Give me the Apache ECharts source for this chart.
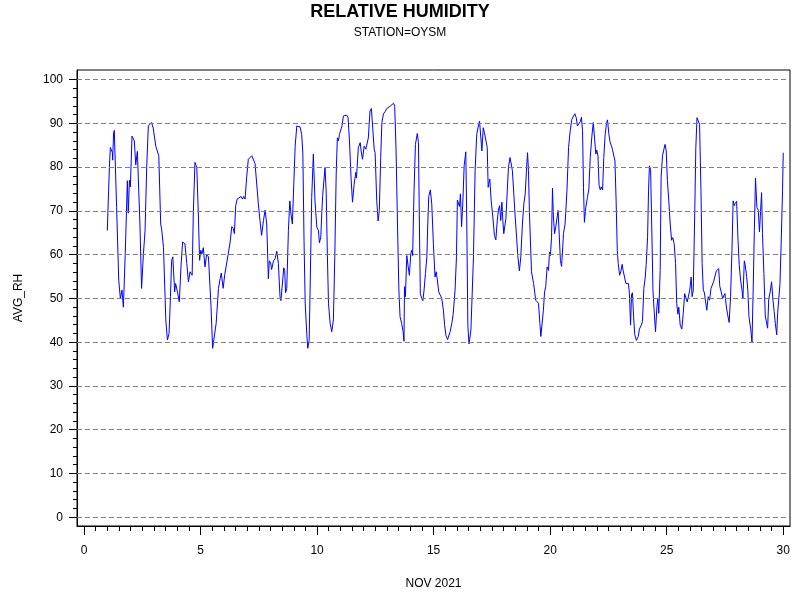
<!DOCTYPE html>
<html>
<head>
<meta charset="utf-8">
<script src="https://cdn.jsdelivr.net/npm/echarts@6/dist/echarts.min.js"></script>
<style>
  html, body { margin: 0; padding: 0; background: #fff; }
  #chart { width: 800px; height: 600px; }
</style>
</head>
<body>
<div id="chart"></div>
<script>
// day of month (fractional) and average relative humidity
const days = [
  1.00, 1.09, 1.13, 1.22, 1.23, 1.27, 1.30, 1.40, 1.49, 1.56, 1.63, 1.69, 1.77, 1.86, 1.90, 1.95, 1.99,
  2.06, 2.09, 2.16, 2.22, 2.29, 2.33, 2.40, 2.47, 2.55, 2.62, 2.69, 2.76, 2.83, 2.90, 2.97,
  3.08, 3.15, 3.21, 3.29, 3.33, 3.41, 3.51, 3.58, 3.65, 3.71, 3.76, 3.81, 3.89, 3.93,
  4.01, 4.09, 4.16, 4.23, 4.33, 4.41, 4.48, 4.55, 4.64, 4.69, 4.76, 4.84, 4.91, 4.96,
  5.01, 5.06, 5.12, 5.19, 5.26, 5.34, 5.45, 5.52, 5.58, 5.67, 5.77, 5.84, 5.89, 5.97,
  6.04, 6.12, 6.19, 6.27, 6.34, 6.41, 6.45, 6.51, 6.57, 6.65, 6.74, 6.80, 6.85, 6.91, 6.98,
  7.05, 7.12, 7.20, 7.27, 7.34, 7.40, 7.48, 7.55, 7.62, 7.70, 7.77, 7.84, 7.91, 7.95,
  8.01, 8.05, 8.13, 8.20, 8.27, 8.34, 8.41, 8.45, 8.53, 8.57, 8.61, 8.65, 8.70, 8.77, 8.83, 8.88, 8.94,
  9.00, 9.06, 9.13, 9.20, 9.27, 9.34, 9.39, 9.44, 9.49, 9.56, 9.60, 9.66, 9.70, 9.77, 9.84, 9.91, 9.99,
  10.06, 10.10, 10.16, 10.20, 10.24, 10.29, 10.34, 10.39, 10.44, 10.49, 10.56, 10.63, 10.70, 10.76, 10.82, 10.87, 10.92, 10.96,
  11.02, 11.07, 11.13, 11.20, 11.27, 11.33, 11.39, 11.46, 11.52, 11.59, 11.66, 11.69, 11.77, 11.85, 11.89, 11.95,
  12.02, 12.09, 12.13, 12.20, 12.27, 12.33, 12.40, 12.45, 12.49, 12.56, 12.62, 12.67, 12.73, 12.78, 12.85, 12.92, 12.99,
  13.06, 13.13, 13.20, 13.28, 13.33, 13.39, 13.45, 13.51, 13.56, 13.63, 13.69, 13.73, 13.75, 13.79, 13.85, 13.91, 13.96,
  14.02, 14.06, 14.10, 14.16, 14.22, 14.26, 14.30, 14.35, 14.39, 14.43, 14.49, 14.54, 14.59, 14.65, 14.71, 14.75, 14.79, 14.82, 14.86, 14.92, 14.99,
  15.06, 15.11, 15.16, 15.22, 15.28, 15.35, 15.42, 15.47, 15.53, 15.60, 15.64, 15.71, 15.78, 15.84, 15.92, 15.98,
  16.02, 16.07, 16.11, 16.15, 16.20, 16.25, 16.31, 16.38, 16.42, 16.47, 16.52, 16.60, 16.65, 16.71, 16.78, 16.85, 16.92, 16.97,
  17.01, 17.07, 17.13, 17.18, 17.24, 17.30, 17.34, 17.37, 17.41, 17.47, 17.54, 17.61, 17.67, 17.73, 17.78, 17.83, 17.88, 17.93, 17.97,
  18.01, 18.06, 18.10, 18.16, 18.21, 18.28, 18.33, 18.38, 18.44, 18.50, 18.56, 18.61, 18.68, 18.74, 18.81, 18.87, 18.93, 18.99,
  19.03, 19.07, 19.11, 19.14, 19.20, 19.24, 19.29, 19.33, 19.38, 19.44, 19.50, 19.56, 19.60, 19.66, 19.71, 19.76, 19.81, 19.87, 19.93, 19.97,
  20.01, 20.06, 20.10, 20.14, 20.19, 20.24, 20.30, 20.34, 20.39, 20.44, 20.49, 20.54, 20.57, 20.64, 20.72, 20.79, 20.86, 20.93,
  21.00, 21.06, 21.12, 21.17, 21.24, 21.30, 21.34, 21.39, 21.43, 21.47, 21.53, 21.60, 21.66, 21.72, 21.79, 21.85, 21.90, 21.96,
  22.00, 22.05, 22.10, 22.15, 22.19, 22.25, 22.30, 22.36, 22.42, 22.46, 22.52, 22.57, 22.63, 22.67, 22.72, 22.78, 22.83, 22.88, 22.92, 22.98,
  23.03, 23.09, 23.13, 23.19, 23.25, 23.30, 23.36, 23.40, 23.45, 23.49, 23.53, 23.58, 23.63, 23.70, 23.78, 23.83, 23.91, 23.96,
  24.02, 24.08, 24.12, 24.18, 24.22, 24.26, 24.31, 24.35, 24.41, 24.46, 24.52, 24.58, 24.62, 24.66, 24.72, 24.76, 24.82, 24.88, 24.93, 24.98,
  25.03, 25.09, 25.15, 25.21, 25.26, 25.32, 25.38, 25.43, 25.48, 25.52, 25.58, 25.65, 25.71, 25.77, 25.82, 25.88, 25.94, 25.99,
  26.05, 26.09, 26.14, 26.20, 26.25, 26.30, 26.35, 26.41, 26.47, 26.52, 26.57, 26.62, 26.67, 26.72, 26.78, 26.84, 26.90, 26.95,
  27.01, 27.07, 27.13, 27.18, 27.23, 27.28, 27.34, 27.40, 27.45, 27.50, 27.55, 27.61, 27.68, 27.74, 27.80, 27.85, 27.90, 27.94,
  28.00, 28.06, 28.11, 28.17, 28.23, 28.27, 28.33, 28.37, 28.43, 28.48, 28.53, 28.57, 28.61, 28.66, 28.71, 28.76, 28.81, 28.87, 28.93, 28.98,
  29.03, 29.07, 29.11, 29.17, 29.23, 29.28, 29.33, 29.38, 29.44, 29.50, 29.56, 29.61, 29.66, 29.72, 29.76, 29.80, 29.86, 29.91, 29.97, 30.00
];
const avgRh = [
  65.5, 80.0, 84.5, 83.3, 81.6, 87.9, 88.4, 70.8, 54.2, 50.0, 51.9, 48.0, 60.2, 76.9, 69.5, 77.0, 75.5,
  87.1, 87.5, 86.0, 80.5, 83.6, 83.6, 67.0, 52.3, 60.2, 65.5, 79.9, 89.4, 89.8, 90.2, 88.9,
  84.8, 84.5, 82.6, 67.0, 65.9, 61.7, 45.1, 40.5, 42.0, 50.4, 58.7, 59.5, 51.5, 53.4,
  51.5, 49.2, 57.2, 62.9, 62.5, 58.0, 53.8, 56.1, 55.3, 69.3, 81.1, 79.9, 68.6, 58.7,
  61.0, 60.2, 61.6, 57.2, 60.0, 59.5, 48.1, 38.6, 38.4, 44.3, 52.3, 54.5, 55.8, 52.3,
  55.5, 55.3, 60.2, 62.9, 66.4, 65.9, 64.8, 71.2, 72.7, 72.3, 73.3, 72.7, 73.3, 72.7, 77.7,
  81.8, 82.2, 82.6, 82.2, 80.8, 80.7, 71.6, 67.8, 64.4, 67.8, 70.2, 67.0, 54.5, 58.6,
  58.1, 56.6, 58.6, 59.1, 60.8, 58.0, 50.4, 49.5, 49.6, 57.0, 56.4, 51.3, 52.3, 65.5, 72.3, 69.3, 67.0,
  76.1, 84.8, 89.4, 89.4, 89.2, 87.5, 83.0, 63.3, 48.9, 41.7, 38.6, 40.4, 51.9, 73.1, 83.0, 72.3, 66.3,
  65.5, 62.7, 64.0, 69.3, 73.5, 73.9, 79.9, 74.6, 60.2, 48.9, 44.3, 42.4, 45.1, 59.5, 78.4, 86.7, 86.0, 87.5,
  87.7, 89.4, 91.7, 92.0, 91.9, 91.3, 86.0, 77.3, 72.0, 76.1, 78.8, 77.5, 84.5, 85.6, 83.7, 81.8,
  84.8, 84.1, 83.9, 86.7, 92.8, 93.4, 93.2, 84.1, 83.3, 72.3, 67.7, 70.1, 82.2, 90.2, 92.2, 92.7, 93.4,
  93.7, 93.9, 94.2, 94.6, 93.9, 83.7, 67.0, 51.9, 45.8, 44.3, 42.4, 40.2, 52.7, 50.4, 59.8, 57.2, 55.3,
  60.2, 61.0, 59.8, 74.6, 85.2, 85.4, 87.7, 85.6, 67.0, 51.1, 50.0, 49.5, 51.9, 55.7, 59.5, 67.0, 73.3, 73.3, 74.8, 71.6, 62.5,
  54.9, 56.1, 54.2, 51.5, 51.5, 50.0, 47.3, 44.0, 41.5, 40.6, 40.5, 42.4, 44.3, 46.4, 51.9, 59.5,
  72.5, 71.6, 71.0, 73.9, 66.4, 71.6, 80.3, 83.5, 68.6, 43.6, 39.6, 42.8, 42.8, 59.5, 79.2, 87.5, 89.4, 90.5,
  90.9, 83.7, 89.0, 87.9, 87.9, 84.5, 75.4, 75.0, 77.3, 72.3, 68.6, 64.4, 63.4, 67.8, 70.2, 71.2, 67.8, 72.0, 67.8,
  64.8, 64.8, 68.2, 74.6, 79.9, 82.2, 81.8, 79.2, 73.9, 68.6, 64.0, 59.8, 56.3, 59.5, 67.0, 71.6, 73.9, 79.9,
  83.3, 79.2, 69.7, 70.1, 56.1, 55.8, 53.4, 53.8, 49.6, 49.2, 48.9, 44.3, 41.3, 41.3, 47.3, 51.5, 52.7, 57.2, 56.4, 60.6,
  59.8, 64.0, 75.2, 68.6, 64.8, 66.4, 68.6, 70.1, 69.7, 58.7, 57.3, 61.7, 64.8, 67.0, 74.6, 84.5, 88.3, 90.9,
  91.7, 92.2, 91.3, 89.4, 89.4, 90.5, 91.4, 88.3, 75.4, 67.4, 70.8, 73.1, 75.0, 82.2, 87.1, 90.2, 89.8, 83.0,
  83.9, 82.6, 75.8, 74.8, 75.5, 74.8, 82.2, 87.5, 90.2, 90.8, 87.5, 85.8, 84.8, 84.1, 84.3, 81.4, 72.3, 61.0, 58.0, 55.3,
  56.1, 57.8, 56.4, 56.4, 53.4, 53.3, 53.4, 51.1, 43.9, 50.8, 51.3, 45.8, 41.7, 40.4, 41.3, 43.0, 43.9, 44.7,
  52.3, 54.9, 57.8, 64.0, 74.6, 80.3, 79.5, 68.6, 51.9, 47.3, 42.4, 48.1, 50.0, 46.6, 56.4, 77.7, 82.6, 84.1, 85.2, 83.7,
  76.9, 72.3, 67.0, 63.3, 63.9, 62.5, 58.0, 48.9, 46.4, 48.0, 43.9, 43.0, 46.6, 51.1, 51.5, 49.2, 48.9, 51.9,
  54.9, 50.4, 51.9, 68.6, 84.5, 91.3, 91.7, 89.8, 74.6, 58.0, 51.9, 51.3, 49.2, 47.3, 50.4, 49.6, 52.3, 52.7,
  53.8, 54.2, 56.3, 56.1, 56.8, 52.7, 51.5, 50.0, 49.6, 51.1, 48.5, 46.4, 44.5, 50.4, 61.0, 72.3, 71.2, 71.7,
  72.2, 63.3, 57.8, 54.2, 51.9, 50.0, 58.6, 57.6, 55.0, 51.9, 45.8, 45.7, 42.8, 40.0, 51.9, 65.5, 77.5, 70.8, 70.1, 65.2,
  65.5, 74.2, 64.8, 55.7, 46.0, 45.8, 43.2, 50.0, 51.5, 53.8, 49.6, 47.0, 44.3, 41.7, 46.6, 47.0, 53.4, 62.5, 74.6, 83.3
];

const xMajorTicks = [0, 5, 10, 15, 20, 25, 30];
const yMajorTicks = [0, 10, 20, 30, 40, 50, 60, 70, 80, 90, 100];

// minor ticks: every 0.5 day, every 2 % RH
const xMinorTicks = [];
for (let i = 0; i <= 60; i++) xMinorTicks.push(i / 2);
const yMinorTicks = [];
for (let i = 0; i <= 50; i++) yMinorTicks.push(i * 2);

const FONT = '"Liberation Sans", Arial, sans-serif';
const black = '#000';

const chart = echarts.init(document.getElementById('chart'), null, { renderer: 'canvas' });

chart.setOption({
  animation: false,
  backgroundColor: '#fff',
  textStyle: { fontFamily: FONT, color: black },
  title: {
    text: 'RELATIVE HUMIDITY',
    subtext: 'STATION=OYSM',
    left: 'center',
    top: -2,
    itemGap: 6,
    textStyle: { fontFamily: FONT, fontSize: 18, fontWeight: 'bold', color: black },
    subtextStyle: { fontFamily: FONT, fontSize: 12, color: black },
  },
  grid: {
    left: 77, right: 10, top: 70, bottom: 74,
    show: true, borderColor: black, borderWidth: 1, backgroundColor: 'transparent',
  },
  xAxis: [
    {
      type: 'value', position: 'bottom', min: -0.3, max: 30.29,
      name: 'NOV 2021', nameLocation: 'middle', nameGap: 52,
      nameTextStyle: { fontFamily: FONT, fontSize: 12, color: black },
      axisLine: { onZero: false, lineStyle: { color: black, width: 1 } },
      axisTick: { customValues: xMajorTicks, length: 9, lineStyle: { color: black } },
      axisLabel: { customValues: xMajorTicks, margin: 19, fontSize: 12, color: black, fontFamily: FONT },
      splitLine: { show: false },
    },
    {
      type: 'value', position: 'bottom', min: -0.3, max: 30.29,
      axisLine: { show: false, onZero: false },
      axisTick: { customValues: xMinorTicks, length: 5, lineStyle: { color: black } },
      axisLabel: { show: false },
      splitLine: { show: false },
    },
  ],
  yAxis: [
    {
      type: 'value', position: 'left', min: -2, max: 102.2,
      name: 'AVG_RH', nameLocation: 'middle', nameGap: 52,
      nameTextStyle: { fontFamily: FONT, fontSize: 12, color: black },
      axisLine: { show: true, onZero: false, lineStyle: { color: black, width: 1 } },
      axisTick: { show: true, customValues: yMajorTicks, length: 8, lineStyle: { color: black } },
      axisLabel: { customValues: yMajorTicks, margin: 14, fontSize: 12, color: black, fontFamily: FONT },
      splitLine: { show: false },
    },
    {
      type: 'value', position: 'left', min: -2, max: 102.2,
      axisLine: { show: false, onZero: false },
      axisTick: { show: true, customValues: yMinorTicks, length: 4, lineStyle: { color: black } },
      axisLabel: { show: false },
      splitLine: { show: false },
    },
  ],
  series: [{
    type: 'line',
    xAxisIndex: 0,
    yAxisIndex: 0,
    data: days.map((d, i) => [d, avgRh[i]]),
    showSymbol: false,
    symbol: 'none',
    lineStyle: { color: '#0000ff', width: 1 },
    markLine: {
      silent: true,
      symbol: ['none', 'none'],
      label: { show: false },
      lineStyle: { color: '#808080', width: 1, type: [5, 3] },
      data: yMajorTicks.map((v) => ({ yAxis: v })),
    },
    z: 3,
  }],
});
</script>
</body>
</html>
